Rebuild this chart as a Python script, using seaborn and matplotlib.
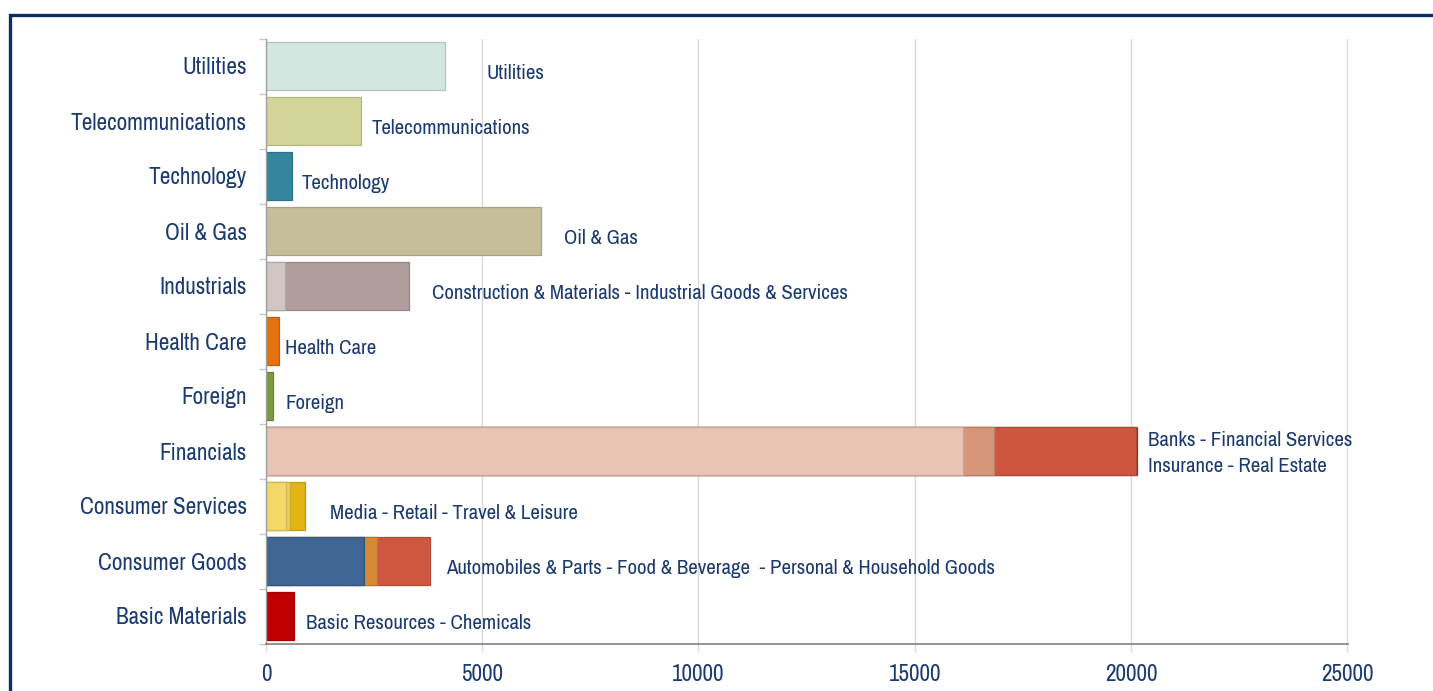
import matplotlib
matplotlib.use("Agg")
import matplotlib.pyplot as plt
from matplotlib import font_manager as fm
from matplotlib.patches import Rectangle
from matplotlib.ticker import FixedLocator
import matplotlib.colors as mcolors
import numpy as np
import pandas as pd
import seaborn as sns

# ---------------- data ----------------
categories = ["Utilities", "Telecommunications", "Technology", "Oil & Gas",
              "Industrials", "Health Care", "Foreign", "Financials",
              "Consumer Services", "Consumer Goods", "Basic Materials"]

# stacked segment values (left to right)
seg1 = [4140, 2200, 600, 6360, 450, 300, 160, 16120, 470, 2270, 655]
seg2 = [0, 0, 0, 0, 2850, 0, 0, 715, 75, 300, 0]
seg3 = [0, 0, 0, 0, 0, 0, 0, 3285, 365, 1225, 0]
seg4 = [0, 0, 0, 0, 0, 0, 0, 25, 0, 0, 0]

seg_labels = ["Utilities", "Telecommunications", "Technology", "Oil & Gas",
              "Construction & Materials - Industrial Goods & Services",
              "Health Care", "Foreign",
              "Banks - Financial Services\nInsurance - Real Estate",
              "Media - Retail - Travel & Leisure",
              "Automobiles & Parts - Food & Beverage  - Personal & Household Goods",
              "Basic Resources - Chemicals"]
label_x = [5090, 2450, 830, 6890, 3840, 440, 440, 20400, 1480, 4160, 925]

xticks = [0, 5000, 10000, 15000, 20000, 25000]

colors1 = ["#D4E6E0", "#D3D698", "#33869D", "#C5BE9A", "#D0C6C4", "#E5700E",
           "#7C9A3D", "#E8C4B5", "#F5D86A", "#3D6694", "#C00000"]
colors2 = ["#D4E6E0", "#D3D698", "#33869D", "#C5BE9A", "#AF9E9C", "#E5700E",
           "#7C9A3D", "#D7967A", "#EDCB52", "#D68A38", "#C00000"]
colors3 = ["#D4E6E0", "#D3D698", "#33869D", "#C5BE9A", "#AF9E9C", "#E5700E",
           "#7C9A3D", "#CE563E", "#E2B512", "#D0573F", "#C00000"]
colors4 = ["#D4E6E0", "#D3D698", "#33869D", "#C5BE9A", "#AF9E9C", "#E5700E",
           "#7C9A3D", "#8B4A2B", "#E2B512", "#D0573F", "#C00000"]

# ---------------- fonts ----------------
names = {f.name for f in fm.fontManager.ttflist}
family = "Liberation Sans"
for cand in ["Liberation Sans Narrow", "Arial Narrow", "Nimbus Sans Narrow",
             "Archivo Narrow", "Roboto Condensed", "PT Sans Narrow"]:
    if cand in names:
        family = cand
        break

sns.set_theme(style="white")
plt.rcParams["font.family"] = [family, "DejaVu Sans"]

NAVY = "#1B3A70"
GRID = "#D9D9D9"

fig = plt.figure(figsize=(14.33, 6.91), dpi=100)
ax = fig.add_axes([266 / 1433, 1 - 643.5 / 691, (1348 - 266) / 1433, (643.5 - 38.5) / 691])

segs = [seg1, seg2, seg3, seg4]
cols = [colors1, colors2, colors3, colors4]
cum = np.cumsum(np.array(segs, dtype=float), axis=0)

# draw cumulative bars from the longest to the shortest layer so they stack
for k in range(3, -1, -1):
    vals = cum[k]
    mask = np.array(segs[k]) > 0
    df = pd.DataFrame({"cat": categories, "val": np.where(mask, vals, 0.0)})
    pal = {c: cols[k][i] for i, c in enumerate(categories)}
    n0 = len(ax.patches)
    sns.barplot(data=df, x="val", y="cat", hue="cat", palette=pal, order=categories,
                hue_order=categories, dodge=False, legend=False, width=0.87,
                saturation=1, ax=ax, orient="h")
    for p in ax.patches[n0:]:
        fc = np.array(mcolors.to_rgb(p.get_facecolor()))
        p.set_edgecolor(tuple(fc * 0.85))
        p.set_linewidth(0.9)
        if p.get_width() <= 0:
            p.set_visible(False)

ax.set_xlim(0, 25020)
ax.set_ylim(len(categories) - 0.5, -0.5)
ax.set_xlabel("")
ax.set_ylabel("")

# grid + ticks
ax.set_xticks(xticks)
ax.set_xticklabels([str(t) for t in xticks])
ax.xaxis.grid(True, color=GRID, linewidth=1.0)
ax.yaxis.grid(False)
ax.set_axisbelow(True)
ax.tick_params(axis="x", length=6, width=1.0, color=GRID, pad=9,
               labelsize=16.7, labelcolor=NAVY, bottom=True)
ax.tick_params(axis="y", which="major", length=0, pad=14,
               labelsize=16.7, labelcolor=NAVY, left=True)
ax.yaxis.set_minor_locator(FixedLocator(np.arange(-0.5, len(categories), 1.0)))
ax.tick_params(axis="y", which="minor", length=5, width=1.0, color="#C8C8C8", left=True)

for s in ["top", "right"]:
    ax.spines[s].set_visible(False)
ax.spines["left"].set_color("#A0A0A0")
ax.spines["left"].set_linewidth(1.0)
ax.spines["bottom"].set_color("#808080")
ax.spines["bottom"].set_linewidth(1.2)

# segment annotations
for i, (lab, lx) in enumerate(zip(seg_labels, label_x)):
    dy = 0.05 if "\n" in lab else 0.14
    ax.text(lx, i + dy, lab, ha="left", va="center", fontsize=15,
            color=NAVY, linespacing=1.45)

# navy frame (extends beyond the right and bottom of the image)
fig.patches.append(Rectangle((10 / 1433, -0.2), 1.3, 1 - 15 / 691 + 0.2,
                             transform=fig.transFigure, fill=False,
                             edgecolor="#0E2C66", linewidth=2.4))

fig.savefig("out.png", dpi=100)
